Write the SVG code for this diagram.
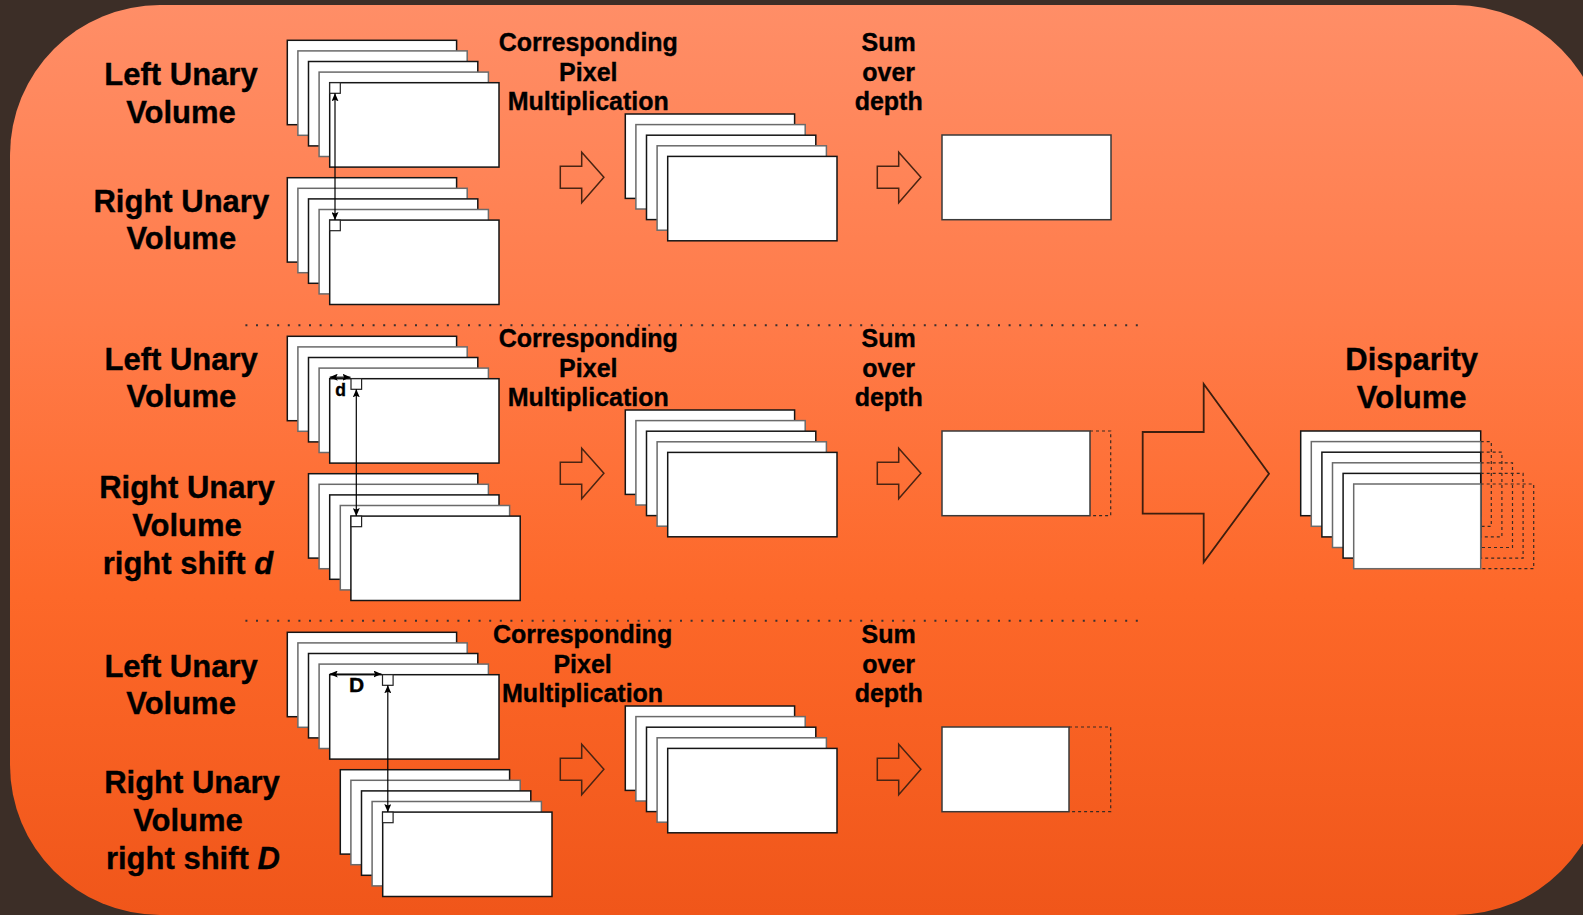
<svg xmlns="http://www.w3.org/2000/svg" xmlns:xlink="http://www.w3.org/1999/xlink" width="1583" height="915" viewBox="0 0 1583 915">
  <defs>
    <linearGradient id="panelFill" gradientUnits="userSpaceOnUse" x1="0" y1="5" x2="0" y2="915">
      <stop offset="0" stop-color="#ff8e67"/>
      <stop offset="0.35" stop-color="#ff7b49"/>
      <stop offset="0.65" stop-color="#fd6829"/>
      <stop offset="1" stop-color="#f0561a"/>
    </linearGradient>
    <marker id="tip" viewBox="0 0 8 7" refX="8" refY="3.5" markerWidth="8" markerHeight="7" markerUnits="userSpaceOnUse" orient="auto-start-reverse">
      <path d="M0,0 L8,3.5 L0,7 L1.5,3.5 Z" fill="#000"/>
    </marker>
    <!-- five stacked feature maps, each offset down-right -->
    <g id="stack5">
      <rect class="even" x="0" y="0" width="169.3" height="84.4"/>
      <rect class="odd" x="10.6" y="10.6" width="169.3" height="84.4"/>
      <rect class="even" x="21.2" y="21.2" width="169.3" height="84.4"/>
      <rect class="odd" x="31.8" y="31.8" width="169.3" height="84.4"/>
      <rect class="even" x="42.4" y="42.4" width="169.3" height="84.4"/>
    </g>
    <!-- small hollow block arrow, origin at left middle -->
    <path id="blockArrow" d="M0,-11 H21.4 V-25 L43.6,0 L21.4,25.5 V11 H0 Z"/>
    <rect id="pix" width="10.6" height="10.6"/>
  </defs>
  <style>
    .even { fill: #fff; stroke: #151515; stroke-width: 1.5; }
    .odd { fill: #fff; stroke: #6a6a6a; stroke-width: 1.5; }
    .box { fill: #fff; stroke: #3a3a3a; stroke-width: 1.5; }
    .pix { fill: #fff; stroke: #222; stroke-width: 1.2; }
    .dash { fill: none; stroke: #3a2a22; stroke-width: 1.2; stroke-dasharray: 3 3; }
    .sep { stroke: #3a3030; stroke-width: 2; stroke-dasharray: 2 8.6; }
    .blk { fill: none; stroke: #4a2412; stroke-width: 1.5; stroke-linejoin: miter; }
    .dbl { stroke: #000; stroke-width: 1.2; fill: none; marker-start: url(#tip); marker-end: url(#tip); }
    text { font-family: "Liberation Sans", Arial, "DejaVu Sans", sans-serif; font-weight: bold; fill: #000; stroke: #000; stroke-width: 0.35; text-anchor: middle; }
    .lbl { font-size: 31px; }
    .cap { font-size: 25px; }
    .sym { font-style: italic; }
  </style>

  <!-- backdrop and rounded panel -->
  <rect width="1583" height="915" fill="#3c2e27"/>
  <rect x="10" y="5" width="1595" height="910" rx="150" ry="150" fill="url(#panelFill)"/>

  <!-- section separators -->
  <line class="sep" x1="245.4" y1="325.3" x2="1138" y2="325.3"/>
  <line class="sep" x1="245.4" y1="620.7" x2="1138" y2="620.7"/>

  <!-- ===== section 1: no shift ===== -->
  <g id="s1-left-label">
    <text class="lbl" x="181" y="85">Left Unary</text>
    <text class="lbl" x="181" y="122.7">Volume</text>
  </g>
  <g id="s1-right-label">
    <text class="lbl" x="181.3" y="211.7">Right Unary</text>
    <text class="lbl" x="181.3" y="249.3">Volume</text>
  </g>
  <g id="s1-left-volume">
    <use xlink:href="#stack5" x="287.3" y="40.3"/>
    <use xlink:href="#pix" class="pix" x="329.7" y="82.7"/>
  </g>
  <g id="s1-right-volume">
    <use xlink:href="#stack5" x="287.3" y="177.7"/>
    <use xlink:href="#pix" class="pix" x="329.7" y="220.1"/>
  </g>
  <g id="s1-mult-label">
    <text class="cap" x="588.3" y="51">Corresponding</text>
    <text class="cap" x="588.3" y="80.7">Pixel</text>
    <text class="cap" x="588.3" y="110">Multiplication</text>
  </g>
  <g id="s1-product">
    <use xlink:href="#stack5" x="625.3" y="114"/>
  </g>
  <g id="s1-sum-label">
    <text class="cap" x="888.7" y="51">Sum</text>
    <text class="cap" x="888.7" y="80.7">over</text>
    <text class="cap" x="888.7" y="110">depth</text>
  </g>
  <g id="s1-sum">
    <rect class="box" x="942" y="135" width="169" height="84.7"/>
  </g>

  <!-- ===== section 2: shift d ===== -->
  <g id="s2-left-label">
    <text class="lbl" x="181.2" y="370">Left Unary</text>
    <text class="lbl" x="181.4" y="407.3">Volume</text>
  </g>
  <g id="s2-right-label">
    <text class="lbl" x="187" y="498.3">Right Unary</text>
    <text class="lbl" x="187" y="536">Volume</text>
    <text class="lbl" x="188" y="574">right shift <tspan class="sym">d</tspan></text>
  </g>
  <g id="s2-left-volume">
    <use xlink:href="#stack5" x="287.3" y="336.3"/>
    <use xlink:href="#pix" class="pix" x="351" y="378.7"/>
    <text x="340.7" y="396" style="font-size:17.5px">d</text>
  </g>
  <g id="s2-right-volume">
    <use xlink:href="#stack5" x="308.5" y="473.7"/>
    <use xlink:href="#pix" class="pix" x="351" y="516.1"/>
  </g>
  <g id="s2-mult-label">
    <text class="cap" x="588.3" y="347">Corresponding</text>
    <text class="cap" x="588.3" y="376.7">Pixel</text>
    <text class="cap" x="588.3" y="406">Multiplication</text>
  </g>
  <g id="s2-product">
    <use xlink:href="#stack5" x="625.3" y="410"/>
  </g>
  <g id="s2-sum-label">
    <text class="cap" x="888.7" y="347">Sum</text>
    <text class="cap" x="888.7" y="376.7">over</text>
    <text class="cap" x="888.7" y="406">depth</text>
  </g>
  <g id="s2-sum">
    <rect class="box" x="942" y="431" width="148" height="84.7"/>
    <path class="dash" d="M1090,431 H1110.7 V515.7 H1090"/>
  </g>

  <!-- ===== section 3: shift D ===== -->
  <g id="s3-left-label">
    <text class="lbl" x="181.1" y="676.7">Left Unary</text>
    <text class="lbl" x="181.1" y="714.3">Volume</text>
  </g>
  <g id="s3-right-label">
    <text class="lbl" x="192" y="793.3">Right Unary</text>
    <text class="lbl" x="188" y="831">Volume</text>
    <text class="lbl" x="192.9" y="869.3">right shift <tspan class="sym">D</tspan></text>
  </g>
  <g id="s3-left-volume">
    <use xlink:href="#stack5" x="287.3" y="632.3"/>
    <use xlink:href="#pix" class="pix" x="382.5" y="674.7"/>
    <text x="356.5" y="691.7" style="font-size:21px">D</text>
  </g>
  <g id="s3-right-volume">
    <use xlink:href="#stack5" x="340.3" y="769.7"/>
    <use xlink:href="#pix" class="pix" x="382.5" y="812.1"/>
  </g>
  <g id="s3-mult-label">
    <text class="cap" x="582.6" y="643">Corresponding</text>
    <text class="cap" x="582.6" y="672.7">Pixel</text>
    <text class="cap" x="582.6" y="702">Multiplication</text>
  </g>
  <g id="s3-product">
    <use xlink:href="#stack5" x="625.3" y="706"/>
  </g>
  <g id="s3-sum-label">
    <text class="cap" x="888.7" y="643">Sum</text>
    <text class="cap" x="888.7" y="672.7">over</text>
    <text class="cap" x="888.7" y="702">depth</text>
  </g>
  <g id="s3-sum">
    <rect class="box" x="942" y="727" width="127" height="84.7"/>
    <path class="dash" d="M1069,727 H1110.7 V811.7 H1069"/>
  </g>

  <!-- ===== stacked result ===== -->
  <g id="disparity-label">
    <text class="lbl" x="1411.7" y="370">Disparity</text>
    <text class="lbl" x="1411.7" y="408.3">Volume</text>
  </g>
  <g id="disparity-volume">
    <rect class="even" x="1300.7" y="431" width="180" height="84.7"/>
    <rect class="odd" x="1311.3" y="441.6" width="169.4" height="84.7"/>
    <path class="dash" d="M1480.7,441.6 H1491.3 V526.3 H1480.7"/>
    <rect class="even" x="1321.9" y="452.2" width="158.8" height="84.7"/>
    <path class="dash" d="M1480.7,452.2 H1501.9 V536.9 H1480.7"/>
    <rect class="odd" x="1332.5" y="462.8" width="148.2" height="84.7"/>
    <path class="dash" d="M1480.7,462.8 H1512.5 V547.5 H1480.7"/>
    <rect class="even" x="1343.1" y="473.4" width="137.6" height="84.7"/>
    <path class="dash" d="M1480.7,473.4 H1523.1 V558.1 H1480.7"/>
    <rect class="odd" x="1353.7" y="484" width="127" height="84.7"/>
    <path class="dash" d="M1480.7,484 H1533.7 V568.7 H1480.7"/>
  </g>

  <!-- ===== connectors ===== -->
  <g id="connectors">
    <!-- pixel correspondences -->
    <line class="dbl" x1="335" y1="93.3" x2="335" y2="220.1"/>
    <line class="dbl" x1="356.3" y1="389.3" x2="356.3" y2="516.1"/>
    <line class="dbl" x1="387.8" y1="685.3" x2="387.8" y2="812.1"/>
    <!-- shift distances -->
    <line class="dbl" x1="329.7" y1="377.2" x2="350.5" y2="377.2"/>
    <line class="dbl" x1="329.7" y1="674" x2="381.5" y2="674"/>
    <!-- process steps -->
    <use xlink:href="#blockArrow" class="blk" x="560.3" y="177.3"/>
    <use xlink:href="#blockArrow" class="blk" x="877.3" y="177.3"/>
    <use xlink:href="#blockArrow" class="blk" x="560.3" y="473.3"/>
    <use xlink:href="#blockArrow" class="blk" x="877.3" y="473.3"/>
    <use xlink:href="#blockArrow" class="blk" x="560.3" y="769.3"/>
    <use xlink:href="#blockArrow" class="blk" x="877.3" y="769.3"/>
    <!-- gather into the disparity volume -->
    <path class="blk" style="stroke:#3d1e0e;stroke-width:1.8" d="M1142.7,432 H1203.7 V384 L1269,473.7 L1203.7,562.3 V513.7 H1142.7 Z"/>
  </g>
</svg>
